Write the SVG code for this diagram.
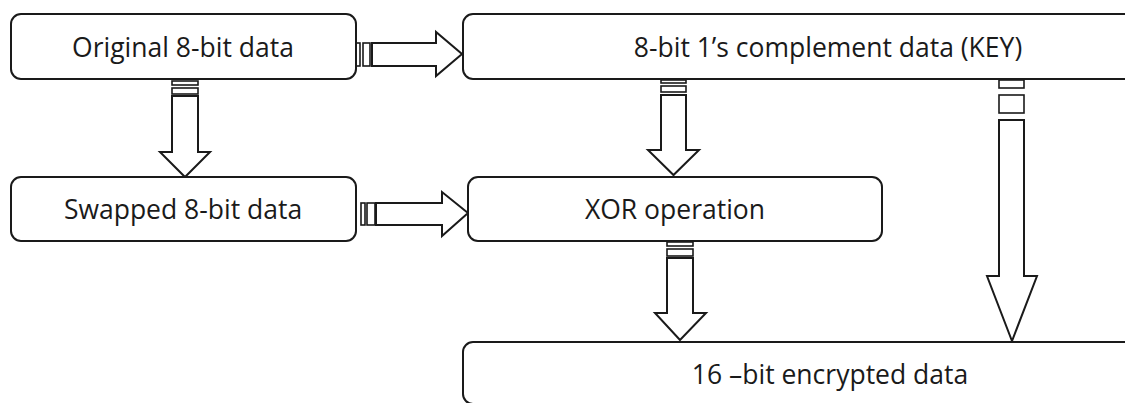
<svg xmlns="http://www.w3.org/2000/svg" width="1125" height="403" viewBox="0 0 1125 403">
  <style>
    .box { fill: #ffffff; stroke: #1a1a1a; stroke-width: 2; }
    .label { font-family: "Open Sans", "Liberation Sans", sans-serif; font-size: 26.5px; fill: #1a1a1a; text-anchor: middle; }
    .arrow { fill: #ffffff; stroke: #1a1a1a; stroke-width: 2; stroke-linejoin: miter; }
    .stripe { fill: #ffffff; stroke: #1a1a1a; stroke-width: 1.6; }
  </style>
  <rect width="1125" height="403" fill="#ffffff"/>

  <g id="connectors">
    <!-- Original -> KEY -->
    <rect class="stripe" x="355" y="43" width="5" height="23"/>
    <rect class="stripe" x="363" y="43" width="7" height="23"/>
    <polygon class="arrow" points="372,43 436,43 436,32 462,54 436,76 436,66 372,66"/>
    <!-- Swapped -> XOR -->
    <rect class="stripe" x="361" y="203" width="4" height="22"/>
    <rect class="stripe" x="367" y="203" width="8" height="22"/>
    <polygon class="arrow" points="376,203 442,203 442,192 468,213 442,236 442,225 376,225"/>
    <!-- Original -> Swapped -->
    <rect class="stripe" x="172" y="81" width="26" height="4"/>
    <rect class="stripe" x="172" y="88" width="26" height="6"/>
    <polygon class="arrow" points="172,96 172,152 160,152 185,177 210,152 198,152 198,96"/>
    <!-- KEY -> XOR -->
    <rect class="stripe" x="661" y="80" width="25" height="3"/>
    <rect class="stripe" x="661" y="86" width="25" height="6"/>
    <polygon class="arrow" points="661,95 661,150 648,150 673.5,175 699,150 686,150 686,95"/>
    <!-- XOR -> encrypted -->
    <rect class="stripe" x="667" y="242" width="26" height="4"/>
    <rect class="stripe" x="667" y="249" width="26" height="7"/>
    <polygon class="arrow" points="667,258 667,313 655,313 680,340 706,313 693,313 693,258"/>
    <!-- KEY -> encrypted -->
    <rect class="stripe" x="999" y="80" width="25" height="8"/>
    <rect class="stripe" x="999" y="95" width="25" height="18"/>
    <polygon class="arrow" points="999,120 999,276 987,276 1012,341 1037,276 1024,276 1024,120"/>
  </g>

  <g id="node-original">
    <rect class="box" x="11" y="14" width="345" height="65" rx="10"/>
    <text class="label" x="183" y="57">Original 8-bit data</text>
  </g>
  <g id="node-key">
    <rect class="box" x="463" y="14" width="730" height="65" rx="10"/>
    <text class="label" x="828" y="57">8-bit 1’s complement data (KEY)</text>
  </g>
  <g id="node-swapped">
    <rect class="box" x="11" y="177" width="345" height="64" rx="10"/>
    <text class="label" x="183" y="219">Swapped 8-bit data</text>
  </g>
  <g id="node-xor">
    <rect class="box" x="468" y="177" width="414" height="64" rx="10"/>
    <text class="label" x="675" y="219">XOR operation</text>
  </g>
  <g id="node-encrypted">
    <rect class="box" x="463" y="342" width="730" height="62" rx="10"/>
    <text class="label" x="830" y="384">16 –bit encrypted data</text>
  </g>
</svg>
